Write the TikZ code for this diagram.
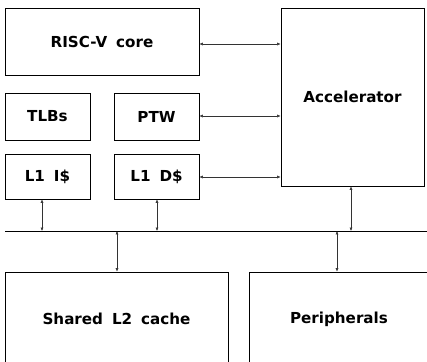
\documentclass[tikz,border=0pt]{standalone}
\usepackage{fontspec}
\setmainfont{DejaVu Sans}[WordSpace=1.7]
\usetikzlibrary{arrows.meta}
\begin{document}
\begin{tikzpicture}[x=1bp,y=-1bp,
  blk/.style={draw=black,line width=0.7pt,rectangle,inner sep=0pt,font=\bfseries\fontsize{15.2}{17}\selectfont},
  link/.style={line width=0.5pt,draw=black!80,{Latex[length=3.5pt,width=3pt]}-{Latex[length=3.5pt,width=3pt]}}]
\useasboundingbox (0,0) rectangle (427,362);
\clip (0,0) rectangle (427,362);
\node[blk,minimum width=194bp,minimum height=67bp] (risc) at (102,41.5) {RISC-V core};
\node[blk,minimum width=85bp,minimum height=47bp] (tlb) at (47.5,116.5) {TLBs};
\node[blk,minimum width=85bp,minimum height=47bp] (ptw) at (156.5,116.5) {PTW};
\node[blk,minimum width=85bp,minimum height=45bp] (l1i) at (47.5,176.5) {L1 I\$};
\node[blk,minimum width=85bp,minimum height=45bp] (l1d) at (156.5,176.5) {L1 D\$};
\node[blk,minimum width=143bp,minimum height=178bp] (acc) at (352.5,97) {Accelerator};
\node[blk,minimum width=223bp,minimum height=94bp] (l2) at (116.5,319) {Shared L2 cache};
\node[blk,minimum width=180bp,minimum height=94bp] (per) at (339,319) {Peripherals};
\coordinate (busL) at (5,231);
\coordinate (busR) at (428,231);
\draw[line width=0.7pt] (busL) -- (busR);
\draw[link] (risc.east |- 0,44) -- (acc.west |- 0,44);
\draw[link] (ptw.east |- 0,116) -- (acc.west |- 0,116);
\draw[link] (l1d.east |- 0,177) -- (acc.west |- 0,177);
\draw[link] (l1i.south -| 42,0) -- (busL -| 42,0);
\draw[link] (l1d.south -| 157,0) -- (busL -| 157,0);
\draw[link] (acc.south -| 351,0) -- (busL -| 351,0);
\draw[link] (busL -| 117,0) -- (l2.north -| 117,0);
\draw[link] (busL -| 337,0) -- (per.north -| 337,0);
\end{tikzpicture}
\end{document}
